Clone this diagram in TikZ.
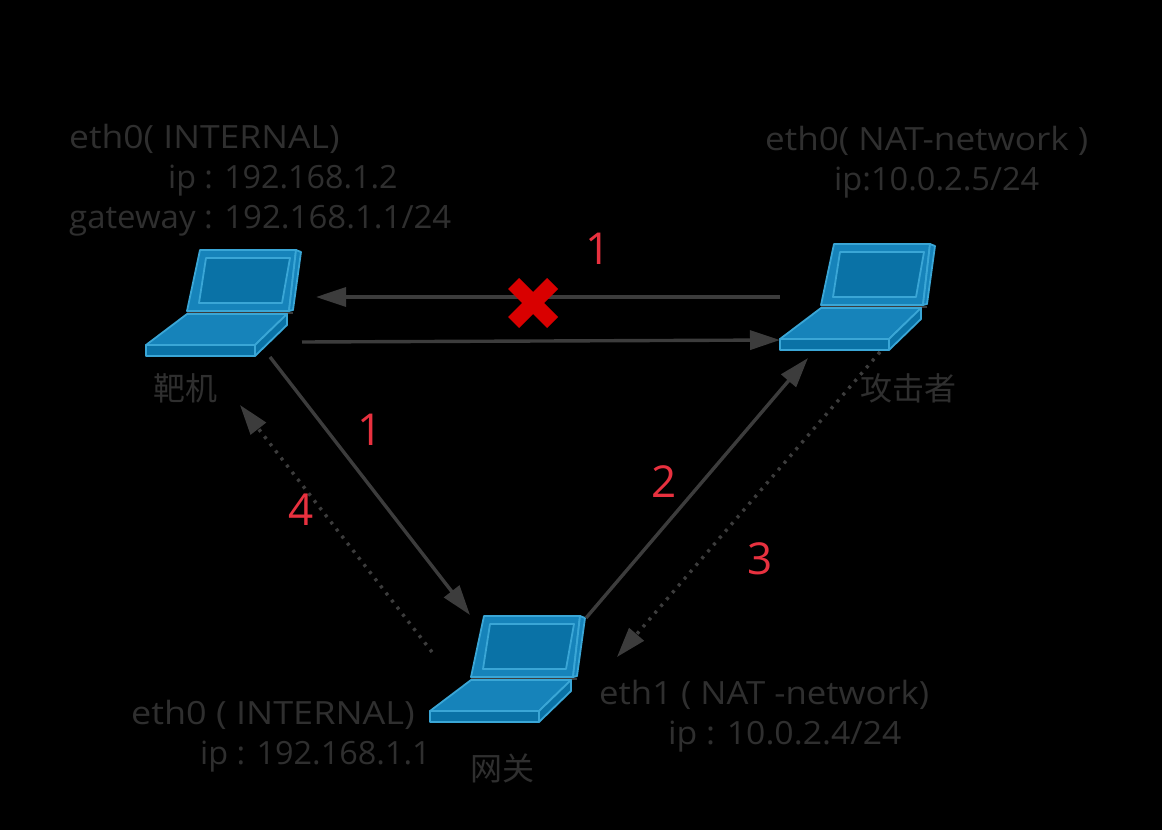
\documentclass[tikz,border=0pt]{standalone}
\usepackage{fontspec}
\setmainfont{Open Sans}
\newfontfamily\cjkf{Noto Sans CJK SC}
\usetikzlibrary{arrows.meta}
\definecolor{lbl}{HTML}{2F2F2F}
\definecolor{conn}{HTML}{3C3C3C}
\definecolor{numr}{HTML}{E8313F}
\definecolor{lapfill}{HTML}{0A72A6}
\definecolor{lapside}{HTML}{1683BA}
\definecolor{lapedge}{HTML}{3AA6D6}
\tikzset{
 x=1pt,y=-1pt,
 lab/.style={text=lbl,font=\fontsize{32}{32}\selectfont,inner sep=0pt,anchor=base west},
 cjk/.style={text=lbl,font=\cjkf\fontsize{32}{32}\selectfont,inner sep=0pt,anchor=base west},
 num/.style={text=numr,font=\fontsize{44}{44}\selectfont,inner sep=0pt,anchor=center},
 link/.style={draw=conn,line width=3.4pt,-{Triangle[length=30pt,width=19pt,fill=conn]},shorten >=0pt},
 dlink/.style={link,dash pattern=on 3pt off 6pt},
 laptoppart/.style={draw=lapedge,line width=1.8pt,line join=round},
 pics/laptop/.style={code={
  \draw[laptoppart,fill=lapside] (54,-106) -- (150,-106) -- (143,-45) -- (41,-45) -- cycle;
  \draw[laptoppart,fill=lapside] (150,-106) -- (155,-104) -- (147,-46) -- (143,-45) -- cycle;
  \draw[laptoppart,fill=lapfill] (60,-98) -- (144,-98) -- (136,-53) -- (53,-53) -- cycle;
  \draw[draw=conn,line width=2pt] (41,-43.5) -- (147,-43.5);
  \draw[laptoppart,fill=lapside] (41,-42) -- (141,-42) -- (109,-11) -- (0,-11) -- cycle;
  \draw[laptoppart,fill=lapfill] (0,-11) -- (109,-11) -- (109,0) -- (0,0) -- cycle;
  \draw[laptoppart,fill=lapfill] (109,-11) -- (141,-42) -- (141,-31) -- (109,0) -- cycle;
 }}
}
\begin{document}
\begin{tikzpicture}
\useasboundingbox (0,0) rectangle (1162,830);
\fill[black] (0,0) rectangle (1162,830);
% laptops
\pic at (146,356) {laptop};
\pic at (780,350) {laptop};
\pic at (430,722) {laptop};
% connector ends
\coordinate (ab) at (780,297); \coordinate (ba) at (316,297);
\coordinate (tb) at (302,342); \coordinate (tc) at (780,340);
\coordinate (tg) at (270,357); \coordinate (gt) at (470,615);
\coordinate (gs) at (432,652); \coordinate (ts) at (240,405);
\coordinate (ga) at (586,618); \coordinate (ag) at (808,358);
\coordinate (as) at (880,352); \coordinate (gr) at (617,657);
\draw[link] (ab) -- (ba);
\draw[link] (tb) -- (tc);
\draw[link] (tg) -- (gt);
\draw[link] (ga) -- (ag);
\draw[dlink] (gs) -- (ts);
\draw[dlink] (as) -- (gr);
% cross
\fill[red!85!black] (533,303) ++(-25,-14) -- ++(11,-11) -- ++(14,14) -- ++(14,-14) -- ++(11,11) -- ++(-14,14) -- ++(14,14) -- ++(-11,11) -- ++(-14,-14) -- ++(-14,14) -- ++(-11,-11) -- ++(14,-14) -- cycle;
% labels
\node[lab] (l1) at (69,148) {\scalebox{1.109}[1]{eth0( INTERNAL)}};
\node[lab] (l2) at (168,188) {\scalebox{1.008}[1]{ip : 192.168.1.2}};
\node[lab] (l3) at (69,228) {\scalebox{1.03}[1]{gateway : 192.168.1.1/24}};
\node[lab] (r1) at (765,150) {\scalebox{1.097}[1]{eth0( NAT-network )}};
\node[lab] (r2) at (834,190) {\scalebox{1.017}[1]{ip:10.0.2.5/24}};
\node[lab] (b1) at (131,724) {\scalebox{1.125}[1]{eth0 ( INTERNAL)}};
\node[lab] (b2) at (200,764) {\scalebox{1.013}[1]{ip : 192.168.1.1}};
\node[lab] (b3) at (599,704) {\scalebox{1.085}[1]{eth1 ( NAT -network)}};
\node[lab] (b4) at (668,744) {\scalebox{1.055}[1]{ip : 10.0.2.4/24}};
\node[cjk] (c1) at (153,400) {靶机};
\node[cjk] (c2) at (860,400) {攻击者};
\node[cjk] (c3) at (470,780) {网关};
\node[num] (n1) at (598,249) {1};
\node[num] (n2) at (370,430) {1};
\node[num] (n3) at (301,510) {4};
\node[num] (n4) at (664,482) {2};
\node[num] (n5) at (760,559) {3};
\end{tikzpicture}
\end{document}
